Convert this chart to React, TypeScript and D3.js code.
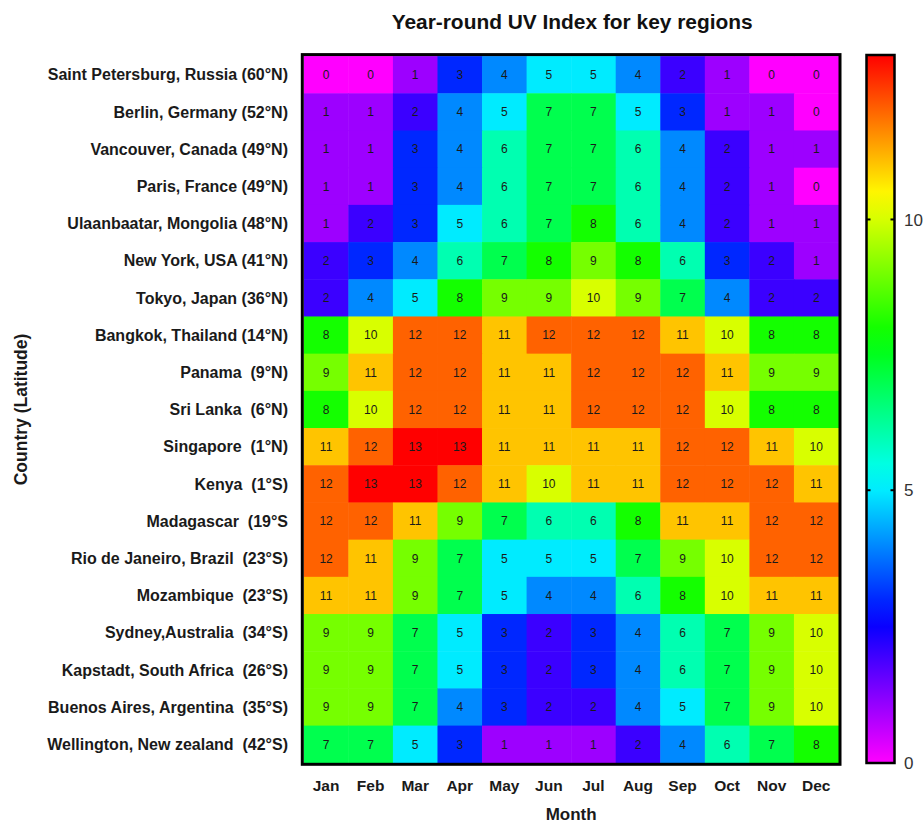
import React from "react";
import * as d3 from "d3";

const months = ["Jan", "Feb", "Mar", "Apr", "May", "Jun", "Jul", "Aug", "Sep", "Oct", "Nov", "Dec"];
const regions = [
  "Saint Petersburg, Russia (60°N)",
  "Berlin, Germany (52°N)",
  "Vancouver, Canada (49°N)",
  "Paris, France (49°N)",
  "Ulaanbaatar, Mongolia (48°N)",
  "New York, USA (41°N)",
  "Tokyo, Japan (36°N)",
  "Bangkok, Thailand (14°N)",
  "Panama  (9°N)",
  "Sri Lanka  (6°N)",
  "Singapore  (1°N)",
  "Kenya  (1°S)",
  "Madagascar  (19°S",
  "Rio de Janeiro, Brazil  (23°S)",
  "Mozambique  (23°S)",
  "Sydney,Australia  (34°S)",
  "Kapstadt, South Africa  (26°S)",
  "Buenos Aires, Argentina  (35°S)",
  "Wellington, New zealand  (42°S)",
];
const uvValues: number[][] = [
  [0, 0, 1, 3, 4, 5, 5, 4, 2, 1, 0, 0],
  [1, 1, 2, 4, 5, 7, 7, 5, 3, 1, 1, 0],
  [1, 1, 3, 4, 6, 7, 7, 6, 4, 2, 1, 1],
  [1, 1, 3, 4, 6, 7, 7, 6, 4, 2, 1, 0],
  [1, 2, 3, 5, 6, 7, 8, 6, 4, 2, 1, 1],
  [2, 3, 4, 6, 7, 8, 9, 8, 6, 3, 2, 1],
  [2, 4, 5, 8, 9, 9, 10, 9, 7, 4, 2, 2],
  [8, 10, 12, 12, 11, 12, 12, 12, 11, 10, 8, 8],
  [9, 11, 12, 12, 11, 11, 12, 12, 12, 11, 9, 9],
  [8, 10, 12, 12, 11, 11, 12, 12, 12, 10, 8, 8],
  [11, 12, 13, 13, 11, 11, 11, 11, 12, 12, 11, 10],
  [12, 13, 13, 12, 11, 10, 11, 11, 12, 12, 12, 11],
  [12, 12, 11, 9, 7, 6, 6, 8, 11, 11, 12, 12],
  [12, 11, 9, 7, 5, 5, 5, 7, 9, 10, 12, 12],
  [11, 11, 9, 7, 5, 4, 4, 6, 8, 10, 11, 11],
  [9, 9, 7, 5, 3, 2, 3, 4, 6, 7, 9, 10],
  [9, 9, 7, 5, 3, 2, 3, 4, 6, 7, 9, 10],
  [9, 9, 7, 4, 3, 2, 2, 4, 5, 7, 9, 10],
  [7, 7, 5, 3, 1, 1, 1, 2, 4, 6, 7, 8],
];
const colorTicks = [0, 5, 10];
const uvDomain = [0, 13];

const FONT = "'Liberation Sans', Arial, Helvetica, sans-serif";

export default function App() {
  const W = 924, H = 825;
  const left = 303.8, right = 838.5, top = 56.1, bottom = 762.8;

  const x = d3.scaleBand<string>().domain(months).range([left, right]).padding(0);
  const y = d3.scaleBand<string>().domain(regions).range([top, bottom]).padding(0);
  const hue = d3.scaleLinear().domain(uvDomain).range([300, 0]);
  const color = (v: number) => d3.hsl(hue(v), 1, 0.5).formatHex();

  const cbX0 = 866.5, cbX1 = 894.5, cbY0 = 55, cbY1 = 763;
  const cy = d3.scaleLinear().domain(uvDomain).range([cbY1 - 2, cbY0 + 2]);
  const stops = d3.range(0, 13.01, 0.5);

  return (
    <svg width={W} height={H} style={{ position: "absolute", left: 0, top: 0, background: "#fff" }} fontFamily={FONT}>
      <defs>
        <linearGradient id="cbar" x1="0" y1="1" x2="0" y2="0">
          {stops.map((s) => (
            <stop key={s} offset={`${(s / 13) * 100}%`} stopColor={color(s)} />
          ))}
        </linearGradient>
      </defs>
      <rect x={0} y={0} width={W} height={H} fill="#fff" />
      <text
        x={(left + right) / 2 + 1}
        y={29}
        textAnchor="middle"
        fontWeight="bold"
        fontSize={21}
        textLength={361}
        lengthAdjust="spacingAndGlyphs"
        fill="#111"
      >
        Year-round UV Index for key regions
      </text>

      {uvValues.map((row, i) =>
        row.map((v, j) => (
          <rect
            key={`${i}-${j}`}
            x={x(months[j])!}
            y={y(regions[i])!}
            width={x.bandwidth() + 0.5}
            height={y.bandwidth() + 0.5}
            fill={color(v)}
          />
        ))
      )}
      {uvValues.map((row, i) =>
        row.map((v, j) => (
          <text
            key={`t${i}-${j}`}
            x={x(months[j])! + x.bandwidth() / 2}
            y={y(regions[i])! + y.bandwidth() / 2}
            dy="0.36em"
            textAnchor="middle"
            fontSize={12}
            fill="#1a1a1a"
          >
            {v}
          </text>
        ))
      )}
      <rect x={302.3} y={54.6} width={537.7} height={709.7} fill="none" stroke="#000" strokeWidth={3} />

      {regions.map((r) => (
        <text
          key={r}
          x={288}
          y={y(r)! + y.bandwidth() / 2}
          dy="0.36em"
          textAnchor="end"
          fontWeight="bold"
          fontSize={16}
          fill="#1a1a1a"
          style={{ whiteSpace: "pre" }}
        >
          {r}
        </text>
      ))}
      {months.map((m) => (
        <text
          key={m}
          x={x(m)! + x.bandwidth() / 2}
          y={785}
          dy="0.36em"
          textAnchor="middle"
          fontWeight="bold"
          fontSize={15.5}
          fill="#1a1a1a"
        >
          {m}
        </text>
      ))}
      <text x={(left + right) / 2} y={820} textAnchor="middle" fontWeight="bold" fontSize={17} fill="#1a1a1a">
        Month
      </text>
      <text
        transform={`translate(27,${(top + bottom) / 2}) rotate(-90)`}
        textAnchor="middle"
        fontWeight="bold"
        fontSize={17.5}
        fill="#1a1a1a"
      >
        Country (Latitude)
      </text>

      <rect x={cbX0} y={cbY0} width={cbX1 - cbX0} height={cbY1 - cbY0} fill="url(#cbar)" stroke="#000" strokeWidth={2.5} />
      {colorTicks.map((t) => (
        <g key={t}>
          {t > 0 && (
            <>
              <line x1={cbX0} x2={cbX0 + 4} y1={cy(t)} y2={cy(t)} stroke="#000" strokeWidth={2} />
              <line x1={cbX1 - 4} x2={cbX1} y1={cy(t)} y2={cy(t)} stroke="#000" strokeWidth={2} />
            </>
          )}
          <text x={904} y={t === 0 ? cy(t) + 2 : cy(t)} dy="0.36em" fontSize={17} fill="#333">
            {t}
          </text>
        </g>
      ))}
    </svg>
  );
}
